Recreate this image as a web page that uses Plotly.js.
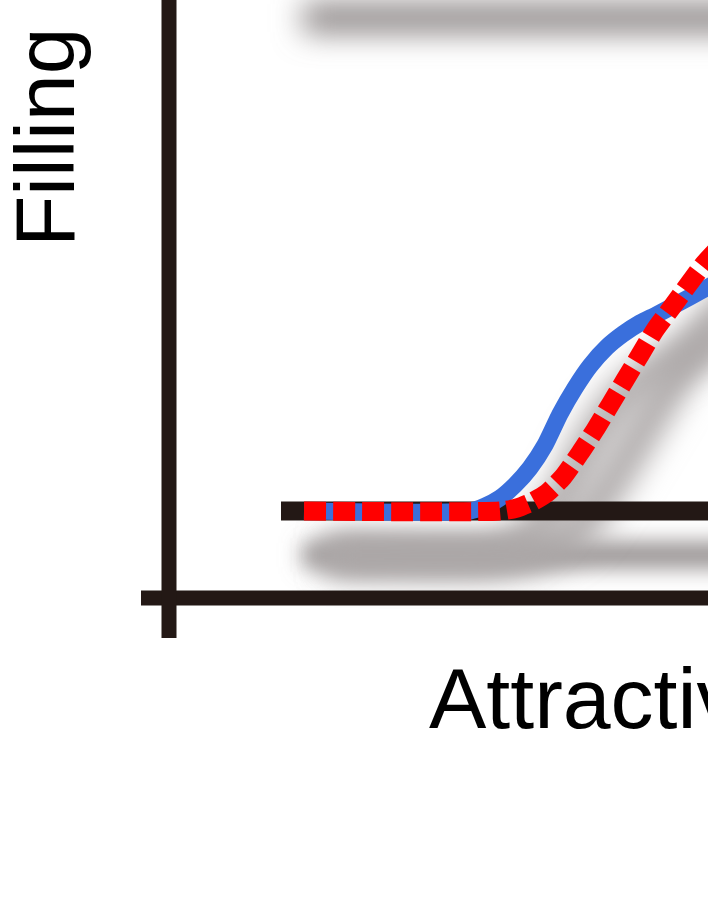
<!DOCTYPE html>
<html>
<head>
<meta charset="utf-8">
<script src="https://cdn.plot.ly/plotly-3.0.1.min.js"></script>
<style>
  html, body { margin: 0; padding: 0; background: #fff; }
  #chart { width: 708px; height: 917px; }
</style>
</head>
<body>
<div id="chart"></div>
<script>
// units: 1 unit = 10 px, origin at the corner of the axes
var axisXx = [-2.8, 56];
var axisXy = [0, 0];
var axisYx = [0, 0];
var axisYy = [-4.0, 62];

// reference levels (bottom one is in view, the top one only shows its shadow)
var baseX = [11.2, 56];
var baseY = [8.7, 8.7];
var topX = [11.2, 56];
var topY = [62.4, 62.4];

// solid blue curve
var blueX = [13.5, 30.1, 31.6, 33.1, 34.6, 36.1, 37.6, 39.1, 40.6, 42.1, 43.8, 45.4, 47.1, 48.7, 50.4, 52.1, 54.3];
var blueY = [8.7, 8.7, 9.2, 10.0, 11.3, 13.0, 15.3, 18.4, 21.0, 23.2, 25.1, 26.4, 27.5, 28.3, 29.2, 30.1, 31.3];

// dotted red curve
var redX = [13.5, 33.1, 34.8, 36.3, 37.8, 39.4, 41.1, 42.6, 44.1, 45.6, 47.1, 48.6, 50.3, 51.9, 53.4, 54.6];
var redY = [8.7, 8.7, 9.0, 9.6, 10.5, 12.1, 14.5, 16.8, 19.3, 21.8, 24.3, 26.8, 29.1, 31.3, 33.3, 34.6];

var shadowDx = 2.2;
var shadowDy = -4.4;
var ink = '#231815';

function shift(arr, d){
  return arr.map(function(v){ return v + d; });
}
function shadow(xs, ys, w, c){
  return {
    x: shift(xs, shadowDx), y: shift(ys, shadowDy),
    mode: 'lines',
    line: {color: c, width: w, shape: 'spline', smoothing: 0.6},
    hoverinfo: 'skip'
  };
}

var data = [
  shadow(topX, topY, 30, 'rgb(140,134,134)'),
  shadow(baseX, baseY, 24, 'rgb(140,134,134)'),
  shadow(blueX, blueY, 34, 'rgb(172,167,167)'),
  shadow(redX, redY, 34, 'rgb(172,167,167)'),
  {
    x: axisXx, y: axisXy, mode: 'lines',
    line: {color: ink, width: 15}
  },
  {
    x: axisYx, y: axisYy, mode: 'lines',
    line: {color: ink, width: 15}
  },
  {
    x: baseX, y: baseY, mode: 'lines',
    line: {color: ink, width: 19}
  },
  {
    x: blueX, y: blueY, mode: 'lines',
    line: {color: '#3a6fdc', width: 17, shape: 'spline', smoothing: 0.6}
  },
  {
    x: redX, y: redY, mode: 'lines',
    line: {color: '#ff0000', width: 19, shape: 'spline', smoothing: 0.6, dash: '22px,7px'}
  }
];

var layout = {
  width: 708,
  height: 917,
  margin: {l: 0, r: 0, t: 0, b: 0},
  paper_bgcolor: '#ffffff',
  plot_bgcolor: '#ffffff',
  showlegend: false,
  xaxis: {
    range: [-16.9, 53.9],
    visible: false,
    fixedrange: true
  },
  yaxis: {
    range: [-31.9, 59.8],
    visible: false,
    fixedrange: true
  },
  annotations: [
    {
      text: 'Filling',
      x: -12.4, y: 46.0, xref: 'x', yref: 'y',
      xanchor: 'center', yanchor: 'middle',
      textangle: -90, showarrow: false,
      font: {family: 'Liberation Sans, Arial, sans-serif', size: 84, color: '#000'}
    },
    {
      text: 'Attractiveness',
      x: 25.8, y: -10.0, xref: 'x', yref: 'y',
      xanchor: 'left', yanchor: 'middle',
      showarrow: false,
      font: {family: 'Liberation Sans, Arial, sans-serif', size: 86, color: '#000'}
    }
  ]
};

function addBlur(defs, id, sd){
  var ns = 'http://www.w3.org/2000/svg';
  var f = document.createElementNS(ns, 'filter');
  f.setAttribute('id', id);
  f.setAttribute('filterUnits', 'userSpaceOnUse');
  f.setAttribute('x', '-200');
  f.setAttribute('y', '-200');
  f.setAttribute('width', '1200');
  f.setAttribute('height', '1400');
  var b = document.createElementNS(ns, 'feGaussianBlur');
  b.setAttribute('stdDeviation', sd);
  f.appendChild(b);
  defs.appendChild(f);
}

Plotly.newPlot('chart', data, layout, {staticPlot: true}).then(function(gd){
  // soften the first four traces into drop shadows
  var defs = gd.querySelector('.main-svg defs');
  addBlur(defs, 'shadowTop', 15);
  addBlur(defs, 'shadowFlat', 11);
  addBlur(defs, 'shadowCurve', 15);
  var traces = gd.querySelectorAll('.scatterlayer .trace');
  traces[0].setAttribute('filter', 'url(#shadowTop)');
  traces[1].setAttribute('filter', 'url(#shadowFlat)');
  traces[2].setAttribute('filter', 'url(#shadowCurve)');
  traces[3].setAttribute('filter', 'url(#shadowCurve)');
});
</script>
</body>
</html>
